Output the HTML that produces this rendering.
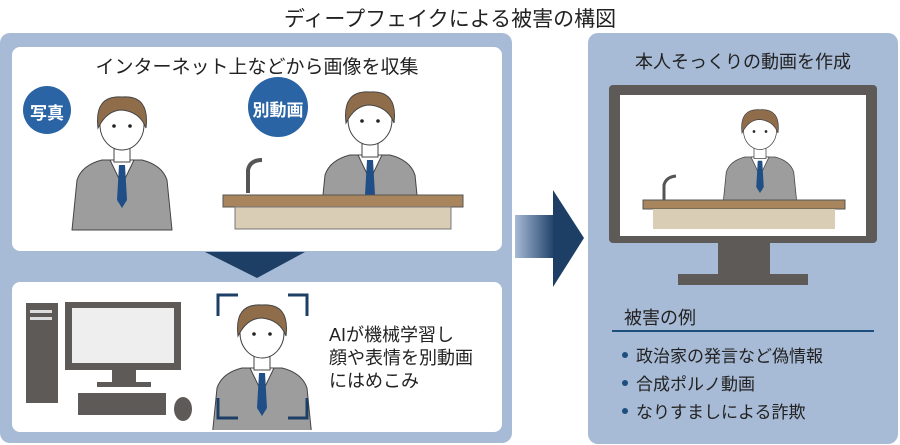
<!DOCTYPE html>
<html><head><meta charset="utf-8"><style>
body{margin:0;width:900px;height:445px;background:#fff;overflow:hidden;font-family:"Liberation Sans","Noto Sans CJK JP",sans-serif;}
svg{position:absolute;left:0;top:0}
.t{position:absolute;color:#222;white-space:nowrap}
</style></head><body>
<svg width="900" height="445" viewBox="0 0 900 445">
<defs>
<linearGradient id="g" x1="0" x2="1"><stop offset="0" stop-color="#a7bad6"/><stop offset="1" stop-color="#1d3f66"/></linearGradient>
<clipPath id="scr"><rect x="620" y="95" width="246" height="141"/></clipPath>
<clipPath id="bx"><rect x="12" y="282" width="490" height="148"/></clipPath>
<g id="man">
 <path d="M-50 70 L-45 20 Q-40 5 -20 0 L20 0 Q40 5 45 20 L50 70 Z" fill="#9d9d9d" stroke="#444" stroke-width="1"/>
 <path d="M-12 0 L0 25 L12 0 Z" fill="#fff" stroke="#444" stroke-width="1"/>
 <path d="M-3 5 L3 5 L5 40 L0 48 L-5 40 Z" fill="#1f4f86"/>
 <rect x="-8" y="-14" width="16" height="16" fill="#fff" stroke="#444"/>
 <ellipse cx="0" cy="-35" rx="22" ry="25" fill="#fff" stroke="#444"/>
 <path d="M-24 -32 Q-28 -65 0 -63 Q28 -65 24 -32 Q18 -48 0 -50 Q-15 -50 -24 -32Z" fill="#8f6d4b" stroke="#444"/>
 <circle cx="-8" cy="-34" r="1.8" fill="#222"/><circle cx="8" cy="-34" r="1.8" fill="#222"/>
</g>
</defs>
<rect x="0" y="33" width="512" height="410" rx="10" fill="#a7bad6"/>
<rect x="588" y="33" width="310" height="411" rx="10" fill="#a7bad6"/>
<rect x="12" y="47" width="490" height="204" rx="8" fill="#fff"/>
<rect x="12" y="282" width="490" height="150" rx="8" fill="#fff"/>
<path d="M205 252 L305 252 L257 278 Z" fill="#1d3f66"/>
<rect x="515" y="215" width="40" height="43" fill="url(#g)"/>
<path d="M553 190 L584 238 L553 287 Z" fill="#1d3f66"/>
<circle cx="47" cy="110" r="24" fill="#2a64a4"/>
<circle cx="278" cy="107" r="30" fill="#2a64a4"/>
<use href="#man" x="122" y="160"/>
<use href="#man" x="370" y="155"/>
<path d="M248 193 L248 170 Q250 160 262 160" stroke="#555" stroke-width="4" fill="none"/>
<rect x="223" y="195" width="240" height="12" fill="#a8855c" stroke="#555" stroke-width="1"/>
<rect x="235" y="207" width="216" height="22" fill="#d9cdb6" stroke="#777" stroke-width="1"/>
<rect x="26" y="303" width="32" height="100" fill="#5e5a57"/>
<rect x="65" y="302" width="116" height="68" fill="#5e5a57"/><rect x="72" y="308" width="102" height="55" fill="#eee"/>
<rect x="112" y="370" width="24" height="12" fill="#5e5a57"/><rect x="97" y="382" width="54" height="5" fill="#5e5a57"/>
<rect x="78" y="393" width="88" height="22" fill="#5e5a57"/><ellipse cx="183" cy="409" rx="9" ry="12" fill="#5e5a57"/>
<rect x="30" y="310" width="22" height="3" fill="#ddd"/><rect x="30" y="317" width="22" height="3" fill="#ddd"/>
<g clip-path="url(#bx)"><use href="#man" x="262" y="368"/></g>
<path d="M218 316 V295 H238 M288 295 H307 V316 M218 398 V418 H238 M288 418 H307 V398" stroke="#1d3f66" stroke-width="3" fill="none"/>
<rect x="609" y="85" width="268" height="158" rx="4" fill="#5e5a57"/>
<rect x="620" y="95" width="246" height="141" fill="#fff"/>
<rect x="718" y="243" width="52" height="32" fill="#5e5a57"/><rect x="678" y="274" width="130" height="11" fill="#5e5a57"/>
<g clip-path="url(#scr)"><g transform="translate(760,157) scale(0.75)"><use href="#man"/></g></g>
<path d="M664 202 L664 185 Q666 177 676 176" stroke="#555" stroke-width="3" fill="none"/>
<rect x="643" y="200" width="202" height="9" fill="#a8855c" stroke="#555" stroke-width="1"/>
<rect x="653" y="209" width="182" height="20" fill="#d9cdb6"/>
<rect x="612" y="330" width="262" height="2" fill="#1d4f7c"/>
<circle cx="625" cy="355" r="3" fill="#1d4f7c"/><circle cx="625" cy="383" r="3" fill="#1d4f7c"/><circle cx="625" cy="411" r="3" fill="#1d4f7c"/>
</svg>
<div class="t" style="left:0;width:900px;text-align:center;top:3px;font-size:21px">ディープフェイクによる被害の構図</div>
<div class="t" style="left:12px;width:490px;text-align:center;top:52px;font-size:19px">インターネット上などから画像を収集</div>
<div class="t" style="left:23px;width:48px;text-align:center;top:99px;font-size:17px;color:#fff;font-weight:bold">写真</div>
<div class="t" style="left:248px;width:60px;text-align:center;top:96px;font-size:17px;color:#fff;font-weight:bold">別動画</div>
<div class="t" style="left:329px;top:324px;font-size:18px;line-height:23px">AIが機械学習し<br>顔や表情を別動画<br>にはめこみ</div>
<div class="t" style="left:588px;width:310px;text-align:center;top:48px;font-size:18px">本人そっくりの動画を作成</div>
<div class="t" style="left:624px;top:304px;font-size:18px">被害の例</div>
<div class="t" style="left:636px;top:343px;font-size:17px;line-height:28px">政治家の発言など偽情報<br>合成ポルノ動画<br>なりすましによる詐欺</div>
</body></html>
